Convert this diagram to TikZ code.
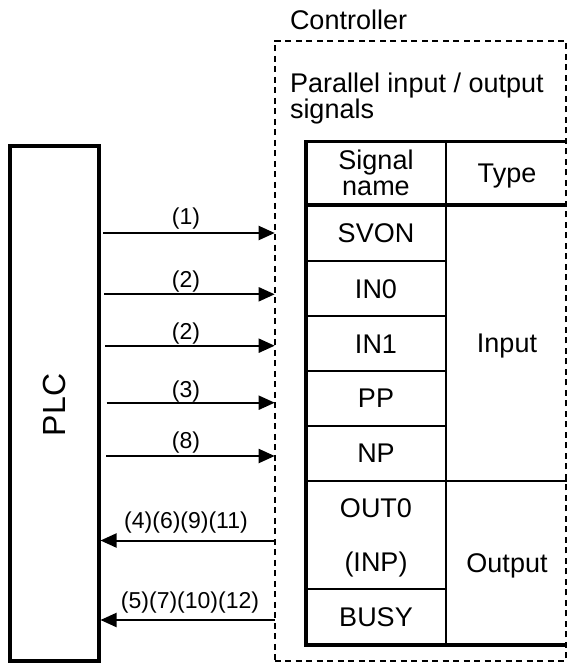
\documentclass[tikz,border=0pt]{standalone}
\usepackage{fontspec}
\setmainfont{Liberation Sans}
\usetikzlibrary{arrows.meta}
\begin{document}
\begin{tikzpicture}[x=1pt,y=-1pt,
  txt/.style={font=\fontsize{27}{27}\selectfont, inner sep=0pt, outer sep=0pt, anchor=base},
  lbl/.style={font=\fontsize{23}{23}\selectfont, inner sep=0pt, outer sep=0pt, anchor=center},
  arr/.style={line width=2pt, -{Triangle[length=16pt,width=14pt]}},
  plcbox/.style={draw, line width=4pt, inner sep=0pt, outer sep=0pt},
  ctrlbox/.style={draw, line width=1.8pt, dash pattern=on 6pt off 4.5pt, inner sep=0pt, outer sep=0pt},
  tblbox/.style={draw, line width=3.6pt, inner sep=0pt, outer sep=0pt},
  thinrule/.style={line width=2pt},
  thickrule/.style={line width=3.6pt}
]
\useasboundingbox (0,0) rectangle (567,664);

% PLC
\node[plcbox, minimum width=89pt, minimum height=514.5pt] (plc) at (54,403.25) {};
\node[rotate=90, font=\fontsize{32}{32}\selectfont, inner sep=0pt] (plctext) at (54,405) {PLC};

% table
\node[tblbox, minimum width=264pt, minimum height=503.7pt] (tbl) at (438,393.15) {};
\draw[thickrule] (306,205) -- (570,205);
\draw[thinrule] (446,141.3) -- (446,645);
\foreach \yy in {261,316,371,425.5,589.3} \draw[thinrule] (306,\yy) -- (446,\yy);
\draw[thinrule] (306,481) -- (570,481);

% controller dashed box
\node[ctrlbox, minimum width=291.3pt, minimum height=620.3pt] (ctrl) at (420.35,350.85) {};

% titles
\node[txt, anchor=base west] (ctrltitle) at (290,29) {Controller};
\node[txt, anchor=base west] (pio1) at (290,92.7) {Parallel input / output};
\node[txt, anchor=base west] (pio2) at (290,118.3) {signals};

% table texts
\node[txt] (h1a) at (376,169.5) {Signal};
\node[txt] (h1b) at (376,195.5) {name};
\node[txt] (h2) at (507,182.5) {Type};
\node[txt] (svon) at (376,242.5) {SVON};
\node[txt] (in0) at (376,298) {IN0};
\node[txt] (in1) at (376,353) {IN1};
\node[txt] (pp) at (376,407.8) {PP};
\node[txt] (np) at (376,462.5) {NP};
\node[txt] (out0) at (376,517.8) {OUT0};
\node[txt] (inp) at (376,571.2) {(INP)};
\node[txt] (busy) at (376,626.5) {BUSY};
\node[txt] (tin) at (507,352.5) {Input};
\node[txt] (tout) at (507,572.5) {Output};

% input arrows
\coordinate (s1) at (103,233);
\coordinate (s2) at (104,294.3);
\coordinate (s3) at (105,345.7);
\coordinate (s4) at (106.5,402.7);
\coordinate (s5) at (106,456);
\foreach \s in {s1,s2,s3,s4,s5} \draw[arr] (\s) -- (ctrl.west |- \s);

% output arrows
\coordinate (e1) at (100.5,540.5);
\coordinate (e2) at (100.5,620);
\draw[arr] (ctrl.west |- e1) -- (e1);
\draw[arr] (ctrl.west |- e2) -- (e2);

% labels
\node[lbl] (l1) at (186,218.3) {(1)};
\node[lbl] (l2) at (186,281.7) {(2)};
\node[lbl] (l3) at (186,333.3) {(2)};
\node[lbl] (l4) at (186,391.7) {(3)};
\node[lbl] (l5) at (186,442.5) {(8)};
\node[lbl] (l6) at (186,523) {(4)(6)(9)(11)};
\node[lbl] (l7) at (190,602.5) {(5)(7)(10)(12)};
\end{tikzpicture}
\end{document}
